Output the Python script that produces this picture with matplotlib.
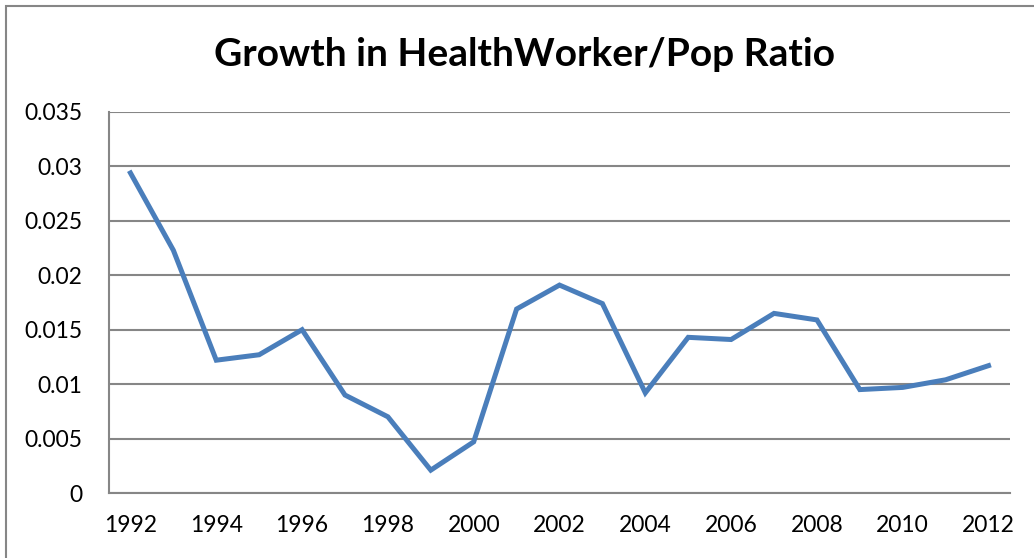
import matplotlib.pyplot as plt
from matplotlib.patches import Rectangle

plt.rcParams["font.family"] = ["Lato", "DejaVu Sans"]

years = list(range(1992, 2013))
ratio_growth = [
    0.0294, 0.0223, 0.0122, 0.0127, 0.0150, 0.0090, 0.0070, 0.0021, 0.0047, 0.0169,
    0.0191, 0.0174, 0.0092, 0.0143, 0.0141, 0.0165, 0.0159, 0.0095, 0.0097, 0.0104,
    0.0117,
]
y_ticks = [0, 0.005, 0.01, 0.015, 0.02, 0.025, 0.03, 0.035]
y_labels = ["0", "0.005", "0.01", "0.015", "0.02", "0.025", "0.03", "0.035"]
x_ticks = years[::2]

fig = plt.figure(figsize=(10.34, 5.58), dpi=100)
fig.patches.append(Rectangle((6 / 1034, -0.1), 1.2, 1 - 6 / 558 + 0.1, transform=fig.transFigure,
                             fill=False, edgecolor="#868686", linewidth=1.5))
ax = fig.add_axes([109 / 1034, 1 - 493 / 558, (1010 - 109) / 1034, (493 - 112) / 558])

ax.plot(years, ratio_growth, color="#4A7EBB", linewidth=3.6, solid_joinstyle="miter")

ax.set_xlim(1991.5, 2012.5)
ax.set_ylim(0, 0.035)
ax.set_yticks(y_ticks)
ax.set_yticklabels(y_labels)
ax.set_xticks(x_ticks)
ax.set_xticklabels([str(y) for y in x_ticks])
ax.tick_params(length=0, labelsize=16.5, colors="black")
ax.tick_params(axis="x", pad=16)
ax.tick_params(axis="y", pad=19)
ax.grid(axis="y", color="#868686", linewidth=1.5)
ax.set_axisbelow(True)
for side in ["top", "right"]:
    ax.spines[side].set_visible(False)
for side in ["left", "bottom"]:
    ax.spines[side].set_color("#868686")
    ax.spines[side].set_linewidth(1.5)

fig.text(524 / 1034, 1 - 55 / 558, "Growth in HealthWorker/Pop Ratio", ha="center", va="center",
         fontsize=28, fontweight="bold")

fig.savefig("out.png", dpi=100)
